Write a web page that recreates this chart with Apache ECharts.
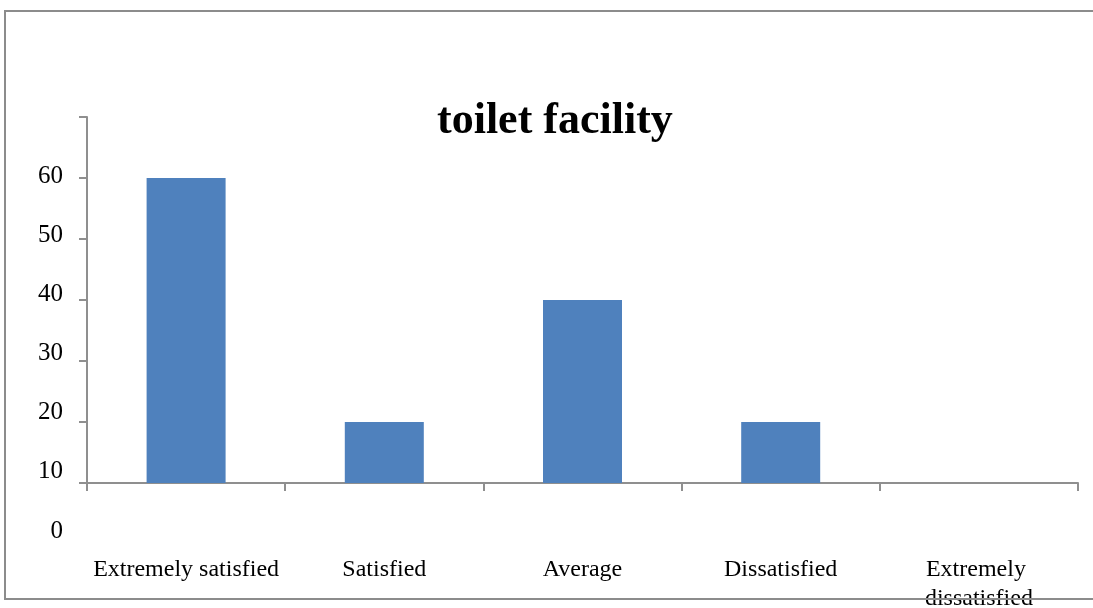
<!DOCTYPE html>
<html>
<head>
<meta charset="utf-8">
<script src="https://cdn.jsdelivr.net/npm/echarts@6/dist/echarts.min.js"></script>
<style>
  html, body { margin: 0; padding: 0; background: #fff; }
  #chart { width: 1093px; height: 608px; }
</style>
</head>
<body>
<div id="chart"></div>
<script>
var titleText = 'toilet facility';
var categories = ['Extremely satisfied', 'Satisfied', 'Average', 'Dissatisfied', 'Extremely dissatisfied'];
var values = [60, 20, 40, 20, 0];
// the printed axis labels sit on their own scale, shifted from the ticks
var labelMin = 0, labelMax = 70, labelStep = 10;
var tickMin = 10, tickMax = 70, tickStep = 10;

var chart = echarts.init(document.getElementById('chart'));
var serif = '"Liberation Serif", "Times New Roman", serif';
var axisGray = '#8f8f8f';

var option = {
    backgroundColor: '#fff',
    animation: false,
    title: {
        text: titleText,
        left: 437,
        top: 100,
        padding: 0,
        textStyle: { fontFamily: serif, fontSize: 44, fontWeight: 'bold', color: '#000' }
    },
    grid: [
        { left: 87, right: 15, top: 117, bottom: 125, containLabel: false, outerBoundsMode: 'none' },
        { left: 87, right: 15, top: 117, bottom: 77, containLabel: false, outerBoundsMode: 'none' }
    ],
    xAxis: [{
        type: 'category',
        gridIndex: 0,
        data: categories,
        boundaryGap: true,
        axisLine: { lineStyle: { color: axisGray, width: 2 } },
        axisTick: { show: true, length: 8, alignWithLabel: false, lineStyle: { color: axisGray, width: 2 } },
        axisLabel: {
            interval: 0,
            margin: 72,
            fontFamily: serif,
            fontSize: 24,
            lineHeight: 29,
            color: '#000',
            width: 196,
            overflow: 'break'
        }
    }, {
        type: 'category',
        gridIndex: 1,
        data: categories,
        show: false
    }],
    yAxis: [{
        type: 'value',
        gridIndex: 0,
        min: tickMin,
        max: tickMax,
        interval: tickStep,
        axisLine: { show: true, lineStyle: { color: axisGray, width: 2 } },
        axisTick: { show: true, length: 8, lineStyle: { color: axisGray, width: 2 } },
        axisLabel: { show: false },
        splitLine: { show: false }
    }, {
        type: 'value',
        gridIndex: 1,
        min: labelMin,
        max: labelMax,
        interval: labelStep,
        axisLine: { show: false },
        axisTick: { show: false },
        splitLine: { show: false },
        axisLabel: {
            margin: 24,
            showMaxLabel: false,
            fontFamily: serif,
            fontSize: 25,
            color: '#000'
        }
    }],
    series: [{
        type: 'bar',
        xAxisIndex: 0,
        yAxisIndex: 0,
        data: values,
        barWidth: 79,
        clip: true,
        itemStyle: { color: '#4F81BD' }
    }],
    graphic: [{
        type: 'polyline',
        z: 100,
        shape: { points: [[1100, 11], [5, 11], [5, 599], [1100, 599]] },
        style: { fill: null, stroke: '#8c8c8c', lineWidth: 2 }
    }]
};

chart.setOption(option);
</script>
</body>
</html>
